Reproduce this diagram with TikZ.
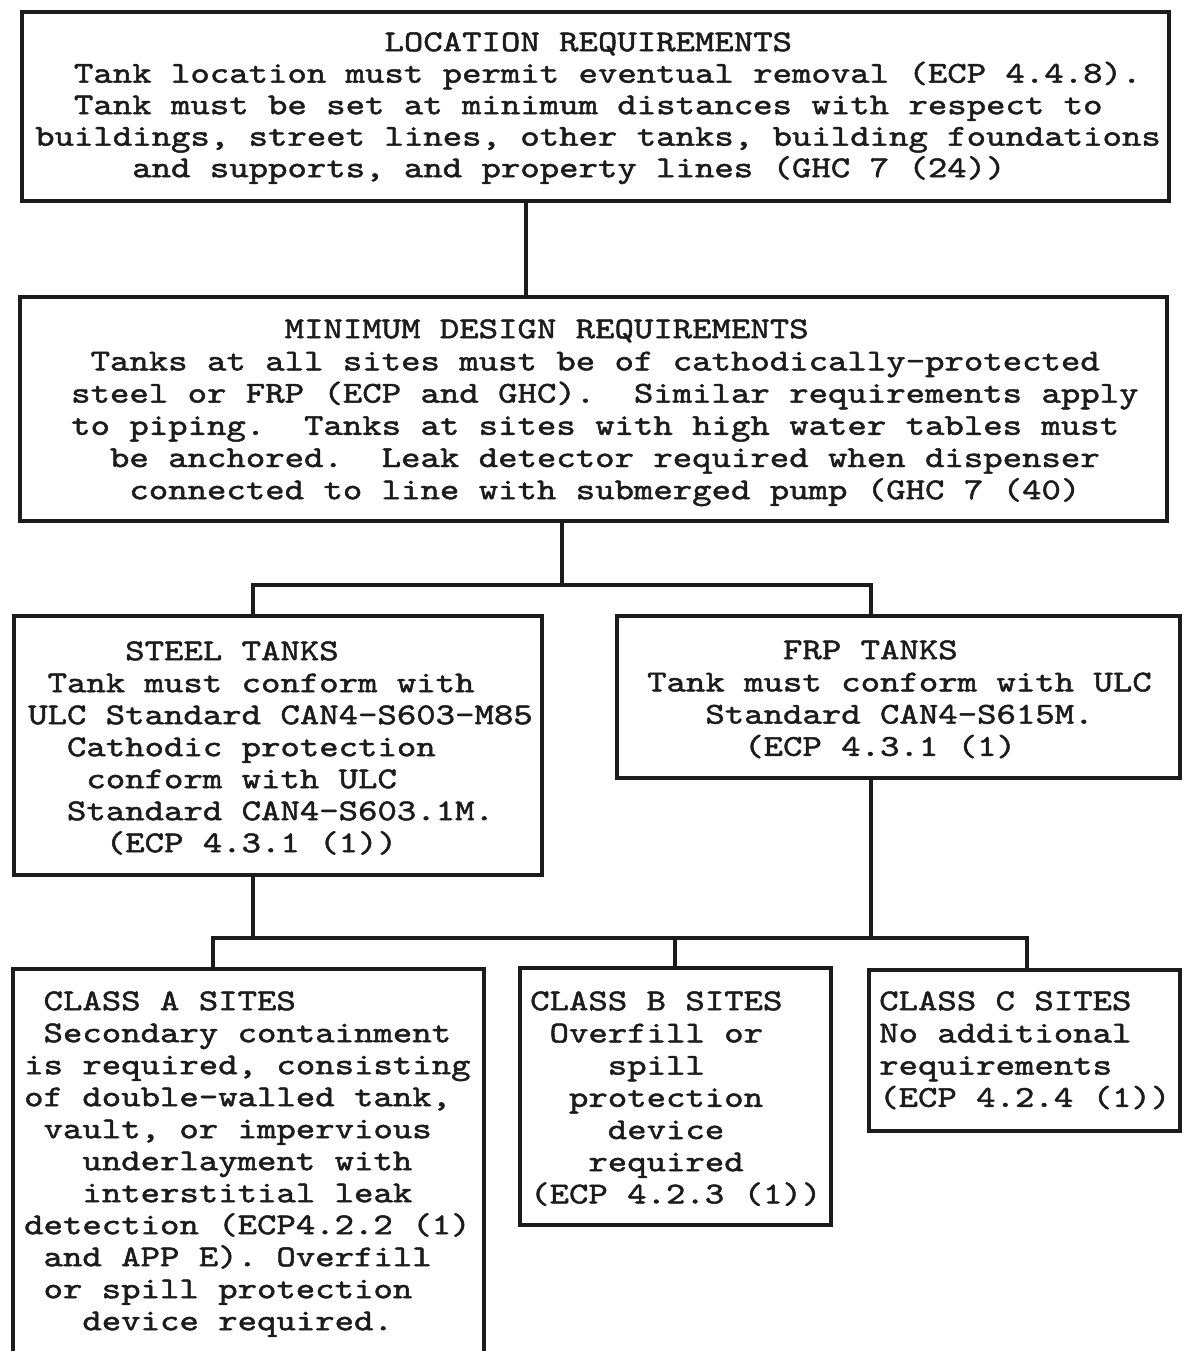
\documentclass[tikz,border=0pt]{standalone}
\usepackage{fontspec}
\newfontfamily\tw{lmmono10-regular.otf}[FakeStretch=1.22,FakeBold=1.6]
\definecolor{ink}{RGB}{28,28,28}
\newcommand\ind[1]{\hspace*{#1\fontcharwd\font`\M}}
\newcommand\tfont[1]{\tw\fontsize{30.3}{#1}\selectfont\lineskiplimit-100pt\relax\frenchspacing}
\lineskiplimit-100pt\relax
\frenchspacing
\tikzset{
  box/.style={draw=ink, line width=4.5pt, rectangle, inner sep=0pt, outer sep=0pt},
  conn/.style={draw=ink, line width=4pt, line cap=rect, line join=miter},
  txt/.style={font={\tfont{#1}}, align=left, inner sep=0pt, anchor=north west, text=ink},
  txt/.default=32.2
}
\begin{document}
\begin{tikzpicture}[x=1pt,y=-1pt]
\useasboundingbox (0,0) rectangle (1183,1351);
\fill[white] (0,0) rectangle (1183,1351);
\clip (0,0) rectangle (1183,1351);

% boxes
\node[box, minimum width=1147pt, minimum height=189pt] (loc) at (595.5,106.5) {};
\node[box, minimum width=1147pt, minimum height=224pt] (des) at (593.5,409) {};
\node[box, minimum width=528pt, minimum height=259pt] (steel) at (278,745.5) {};
\node[box, minimum width=563pt, minimum height=162pt] (frp) at (898.5,697) {};
\node[box, minimum width=471pt, minimum height=431pt] (clA) at (248.5,1184.5) {};
\node[box, minimum width=311pt, minimum height=257pt] (clB) at (675.5,1096.5) {};
\node[box, minimum width=311pt, minimum height=161pt] (clC) at (1024.5,1050.5) {};

% junction coordinates
\coordinate (x1) at (526,0);
\coordinate (x2) at (562,585);
\coordinate (xs) at (253,0);
\coordinate (xf) at (871,0);
\coordinate (x3) at (0,938);
\coordinate (xa) at (213,0);
\coordinate (xb) at (675,0);
\coordinate (xc) at (1027,0);

% connectors
\draw[conn] (loc.south -| x1) -- (des.north -| x1);
\draw[conn] (des.south -| x2) -- (x2);
\draw[conn] (steel.north -| xs) -- (xs |- x2) -- (xf |- x2) -- (frp.north -| xf);
\draw[conn] (steel.south -| xs) -- (xs |- x3);
\draw[conn] (frp.south -| xf) -- (xf |- x3);
\draw[conn] (clA.north -| xa) -- (xa |- x3) -- (xc |- x3) -- (clC.north -| xc);
\draw[conn] (xb |- x3) -- (clB.north -| xb);

% texts
\node[txt=31.5] (tloc) at (35,27) {\rule{0pt}{24pt}\ind{18}LOCATION REQUIREMENTS\\
\ind{2}Tank location must permit eventual removal (ECP 4.4.8).\\
\ind{2}Tank must be set at minimum distances with respect to\\
buildings, street lines, other tanks, building foundations\\
\ind{5}and supports, and property lines (GHC 7 (24))};

\node[txt] (tdes) at (71,314) {\rule{0pt}{24pt}\ind{11}MINIMUM DESIGN REQUIREMENTS\\
\ind{1}Tanks at all sites must be of cathodically-protected\\
steel or FRP (ECP and GHC).\ \ Similar requirements apply\\
to piping.\ \ Tanks at sites with high water tables must\\
\ind{2}be anchored.\ \ Leak detector required when dispenser\\
\ind{3}connected to line with submerged pump (GHC 7 (40)};

\node[txt=32] (tsteel) at (28,636) {\rule{0pt}{24pt}\ind{5}STEEL TANKS\\
\ind{1}Tank must conform with\\
ULC Standard CAN4-S603-M85\\
\ind{2}Cathodic protection\\
\ind{3}conform with ULC\\
\ind{2}Standard CAN4-S603.1M.\\
\ind{4}(ECP 4.3.1 (1))};

\node[txt] (tfrp) at (647,635) {\rule{0pt}{24pt}\ind{7}FRP TANKS\\
Tank must conform with ULC\\
\ind{3}Standard CAN4-S615M.\\
\ind{5}(ECP 4.3.1 (1)};

\node[txt=32] (tclA) at (24,986) {\rule{0pt}{24pt}\ind{1}CLASS A SITES\\
\ind{1}Secondary containment\\
is required, consisting\\
of double-walled tank,\\
\ind{1}vault, or impervious\\
\ind{3}underlayment with\\
\ind{3}interstitial leak\\
detection (ECP4.2.2 (1)\\
\ind{1}and APP E). Overfill\\
\ind{1}or spill protection\\
\ind{3}device required.};

\node[txt] (tclB) at (530,986) {\rule{0pt}{24pt}CLASS B SITES\\
\ind{1}Overfill or\\
\ind{4}spill\\
\ind{2}protection\\
\ind{4}device\\
\ind{3}required\\
(ECP 4.2.3 (1))};

\node[txt] (tclC) at (879,986) {\rule{0pt}{24pt}CLASS C SITES\\
No additional\\
requirements\\
(ECP 4.2.4 (1))};
\end{tikzpicture}
\end{document}
